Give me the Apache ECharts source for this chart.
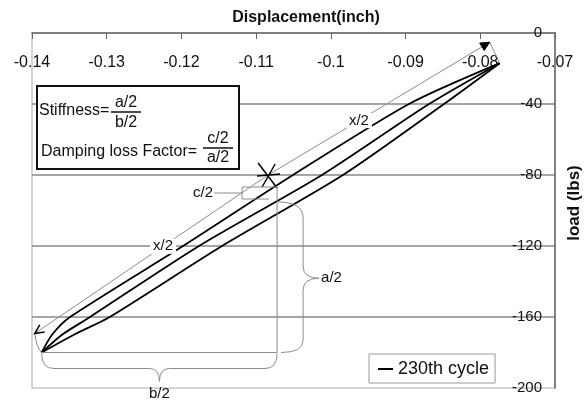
<!DOCTYPE html>
<html>
<head>
<meta charset="utf-8">
<script src="https://cdn.jsdelivr.net/npm/echarts@6/dist/echarts.min.js"></script>
<style>html,body{margin:0;padding:0;background:#fff;}#c{width:584px;height:403px;}</style>
</head>
<body>
<div id="c"></div>
<script>
// ---- data ----
const seriesName = '230th cycle';
const xTickMin = -0.14, xTickMax = -0.07, xTickStep = 0.01;
const yTickMin = -200, yTickMax = 0, yTickStep = 40;
// load levels (lbs) at which the three branches were read
const loadLevels = [-180, -170, -160, -120, -80, -40, -17];
// displacement (inch) of each branch at those load levels
const upperBranchX  = [-0.1387, -0.13732, -0.13491, -0.11979, -0.10507, -0.08954, -0.0774];
const middleBranchX = [-0.1387, -0.13598, -0.13224, -0.11765, -0.10119, -0.08686, -0.0774];
const lowerBranchX  = [-0.1387, -0.13440, -0.12960, -0.11457, -0.09838, -0.08486, -0.0774];
// annotation anchors (data coordinates)
const starPoint = [-0.1084, -80];
const loopLow = [-0.1387, -180];
const loopHigh = [-0.0774, -17];

(function () {
const FONT = '"Liberation Sans", Arial, sans-serif';
const pairs = xs => xs.map((x, i) => [x, loadLevels[i]]);

const chart = echarts.init(document.getElementById('c'), null, {renderer: 'canvas'});
const lineSeries = xs => ({
  name: seriesName, type: 'line', data: pairs(xs), showSymbol: false, smooth: 0.25,
  lineStyle: {color: '#000', width: 1.8}, itemStyle: {color: '#000'}, z: 3
});
chart.setOption({
  animation: false,
  backgroundColor: '#fff',
  grid: {left: 32, top: 33, width: 523, height: 355, show: true, borderColor: '#c8c8c8', borderWidth: 1.5, backgroundColor: '#fff'},
  xAxis: {
    type: 'value', position: 'top', min: xTickMin, max: xTickMax, interval: xTickStep,
    axisLine: {show: true, onZero: false, lineStyle: {color: '#666', width: 1.5}},
    axisTick: {show: true, inside: true, length: 6, lineStyle: {color: '#666'}},
    axisLabel: {inside: true, margin: 22, fontSize: 16, color: '#111', fontFamily: FONT,
      formatter: v => String(parseFloat(v.toFixed(2)))},
    splitLine: {show: false}
  },
  yAxis: {
    type: 'value', position: 'right', min: yTickMin, max: yTickMax, interval: yTickStep,
    axisLine: {show: true, onZero: false, lineStyle: {color: '#666', width: 1.5}},
    axisTick: {show: false},
    axisLabel: {inside: true, margin: 13, fontSize: 15, color: '#111', fontFamily: FONT},
    splitLine: {show: true, showMinLine: false, showMaxLine: false, lineStyle: {color: '#888', width: 1.5}}
  },
  legend: {
    show: true, left: 369, top: 354, data: [seriesName], icon: 'rect', itemWidth: 15, itemHeight: 2,
    padding: [6, 6, 5, 9], borderColor: '#999', borderWidth: 1, backgroundColor: '#fff',
    textStyle: {fontSize: 18, color: '#111', fontFamily: FONT}
  },
  series: [lineSeries(lowerBranchX), lineSeries(upperBranchX), lineSeries(middleBranchX)]
});

// ---- annotations ----
const P = p => chart.convertToPixel({gridIndex: 0}, p);
const S = P(starPoint), BL = P(loopLow), TR = P(loopHigh);
const gray = '#8c8c8c';
const Z = 50;
const els = [];
const line = (pts, color, w) => els.push({type: 'polyline', z: Z, shape: {points: pts}, style: {stroke: color || gray, lineWidth: w || 1, fill: null}});
const quad = (p0, c, p1, color, w) => els.push({type: 'bezierCurve', z: Z,
  shape: {x1: p0[0], y1: p0[1], cpx1: c[0], cpy1: c[1], x2: p1[0], y2: p1[1]},
  style: {stroke: color || gray, lineWidth: w || 1, fill: null}});
// segs: start point then ['L',x,y] / ['Q',cx,cy,x,y]
const path = (start, segs) => {
  let cur = start;
  segs.forEach(s => {
    if (s[0] === 'L') { line([cur, [s[1], s[2]]]); cur = [s[1], s[2]]; }
    else { quad(cur, [s[1], s[2]], [s[3], s[4]]); cur = [s[3], s[4]]; }
  });
};
const text = (t, x, y, o) => els.push(Object.assign({type: 'text', z: Z + 2, x: x, y: y,
  style: Object.assign({text: t, fill: '#111', font: '15px ' + FONT, textAlign: 'center', textVerticalAlign: 'middle'}, (o && o.style) || {})},
  (o && o.extra) || {}));

// x/2 dimension lines
const A1 = [BL[0] - 7, BL[1] - 19], A2 = [TR[0] - 10, TR[1] - 21];
line([S, A1]); line([S, A2]);
quad(A1, [A1[0] + 2, BL[1] - 4], BL);
line([A2, TR]);
function head(tip, from, filled) {
  const dx = tip[0] - from[0], dy = tip[1] - from[1], L = Math.hypot(dx, dy);
  const ux = dx / L, uy = dy / L, len = 10, a = 0.45;
  const p1 = [tip[0] - len * (ux * Math.cos(a) - uy * Math.sin(a)), tip[1] - len * (uy * Math.cos(a) + ux * Math.sin(a))];
  const p2 = [tip[0] - len * (ux * Math.cos(a) + uy * Math.sin(a)), tip[1] - len * (uy * Math.cos(a) - ux * Math.sin(a))];
  if (filled) els.push({type: 'polygon', z: Z, shape: {points: [p1, tip, p2]}, style: {fill: '#000', stroke: '#000', lineWidth: 1}});
  else line([p1, tip, p2], '#000', 1.5);
}
head(A1, S, false); head(A2, S, true);
// star
[[-10, -12, 9, 13], [-11, 1, 12, -1], [-6, 12, 7, -11]].forEach(s => line([[S[0] + s[0], S[1] + s[1]], [S[0] + s[2], S[1] + s[3]]], '#000', 1.5));
// a/2, b/2 and c/2 construction
const vx = S[0] + 9;
line([[vx, S[1] + 12], [vx, BL[1]]]);
line([[BL[0], BL[1]], [vx, BL[1]]]);
line([[vx, S[1] + 12], [S[0] - 26, S[1] + 12], [S[0] - 26, S[1] + 24], [S[0] + 1, S[1] + 24]]);
line([[S[0] - 54, S[1] + 18], [S[0] - 26, S[1] + 18]]);
text('c/2', S[0] - 55, S[1] + 18, {style: {textAlign: 'right'}});
const mid = (BL[0] + vx) / 2, by = BL[1] + 16;
path([BL[0], BL[1] + 1], [['Q', BL[0], by, BL[0] + 12, by], ['L', mid - 10, by], ['Q', mid, by, mid, by + 13],
  ['Q', mid, by, mid + 10, by], ['L', vx - 12, by], ['Q', vx, by, vx, BL[1] + 1]]);
text('b/2', mid, BL[1] + 41);
const braceTop = S[1] + 27, ax = vx + 26, my = (braceTop + BL[1]) / 2 + 1;
path([vx + 1, braceTop], [['Q', ax, braceTop, ax, braceTop + 16], ['L', ax, my - 12], ['Q', ax, my, ax + 16, my],
  ['Q', ax, my, ax, my + 12], ['L', ax, BL[1] - 12], ['Q', ax, BL[1], vx + 4, BL[1]]]);
text('a/2', ax + 18, my, {style: {textAlign: 'left'}});
// x/2 labels
const lab = (t, f, tip) => text(t, S[0] + f * (tip[0] - S[0]), S[1] + f * (tip[1] - S[1]),
  {style: {backgroundColor: '#fff', padding: [0, 3, 0, 3]}});
lab('x/2', 0.45, A1); lab('x/2', 0.41, A2);
// formula box
const F16 = {font: '16px ' + FONT};
els.push({type: 'rect', z: Z, shape: {x: 37, y: 86, width: 202, height: 83}, style: {fill: '#fff', stroke: '#111', lineWidth: 2}});
text('Stiffness=', 39, 111, {style: Object.assign({textAlign: 'left'}, F16)});
text('a/2', 126, 103, {style: F16}); line([[111, 112], [141, 112]], '#111', 1.5); text('b/2', 126, 123, {style: F16});
text('Damping loss Factor=', 41, 152, {style: Object.assign({textAlign: 'left'}, F16)});
text('c/2', 218, 139, {style: F16}); line([[203, 148], [233, 148]], '#111', 1.5); text('a/2', 218, 158, {style: F16});
// axis titles
text('Displacement(inch)', 306, 18, {style: {font: 'bold 16px ' + FONT}});
text('load (lbs)', 574, 203, {style: {font: 'bold 17px ' + FONT}, extra: {rotation: Math.PI / 2}});

chart.setOption({graphic: {elements: els}});
})();
</script>
</body>
</html>
